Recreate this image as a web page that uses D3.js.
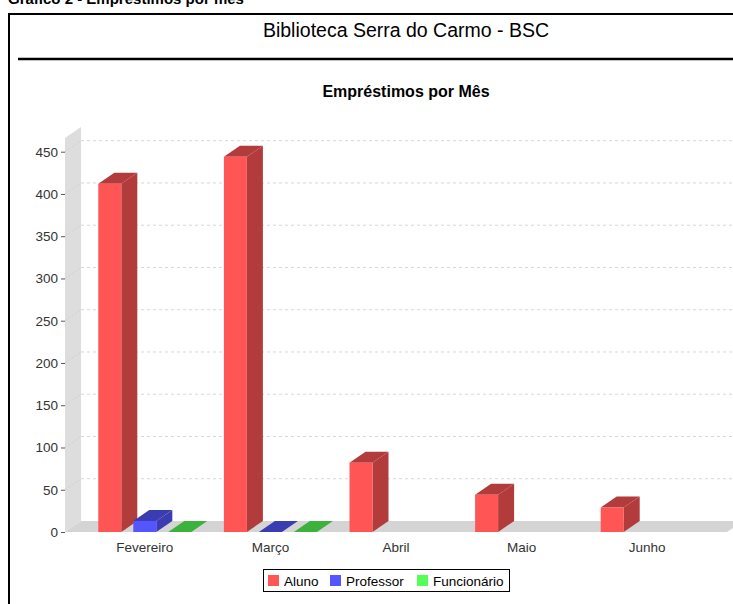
<!DOCTYPE html>
<html><head><meta charset="utf-8">
<script src="https://cdn.jsdelivr.net/npm/d3@7"></script>
<style>body{margin:0;background:#fff;overflow:hidden}svg{display:block}text{font-family:"Liberation Sans",Arial,sans-serif}</style>
</head><body>
<script>
const categories = ["Fevereiro", "Março", "Abril", "Maio", "Junho"];
const seriesNames = ["Aluno", "Professor", "Funcionário"];
const aluno = [412, 444, 82, 44, 29];
const professor = [13, 0, null, null, null];
const funcionario = [0, 0, null, null, null];
const yTicks = [0, 50, 100, 150, 200, 250, 300, 350, 400, 450];
const colors = ["#ff5555", "#5555ff", "#55ff55"];
const darkColors = ["#b23b3b", "#3b3bb2", "#3bb23b"];

(function () {
const W = 733, H = 604;
const FONT = '"Liberation Sans",Arial,sans-serif';
const svg = d3.select("body").append("svg").attr("width", W).attr("height", H);

// page heading (cut off at top, as in the reference)
svg.append("text").attr("x", 8).attr("y", 4).attr("font-size", 15).attr("font-weight", "bold")
  .text("Gráfico 2 - Empréstimos por mês");

// frame
svg.append("rect").attr("x", 9).attr("y", 14).attr("width", 740).attr("height", 620)
  .attr("fill", "none").attr("stroke", "#000").attr("stroke-width", 2);

svg.append("text").attr("x", 406).attr("y", 37).attr("text-anchor", "middle").attr("font-size", 19.5)
  .text("Biblioteca Serra do Carmo - BSC");
svg.append("line").attr("x1", 18).attr("x2", 740).attr("y1", 59).attr("y2", 59)
  .attr("stroke", "#000").attr("stroke-width", 2.5);
svg.append("text").attr("x", 406).attr("y", 97).attr("text-anchor", "middle").attr("font-size", 16)
  .attr("font-weight", "bold").text("Empréstimos por Mês");

// 3D plot geometry
const DX = 16, DY = -11;
const pLeft = 65, pRight = 727, pBottom = 532, pTop = 138;
const y = d3.scaleLinear().domain([0, 444 * 1.05]).range([pBottom, pTop]);
const x0 = d3.scaleBand().domain(categories).range([pLeft + 17, pRight - 17]).padding(0);
const x1 = d3.scaleBand().domain(seriesNames).range([0, 93]).paddingInner(12 / 35).paddingOuter(0);

// left wall
svg.append("polygon").attr("points", [[pLeft, pBottom], [pLeft, pTop], [pLeft + DX, pTop + DY], [pLeft + DX, pBottom + DY]].join(" "))
  .attr("fill", "#dddddd");
// floor
svg.append("polygon").attr("points", [[pLeft, pBottom], [pLeft + DX, pBottom + DY], [pRight + DX, pBottom + DY], [pRight, pBottom]].join(" "))
  .attr("fill", "#d4d4d4");

// gridlines on back plane
const grid = svg.append("g");
yTicks.filter(t => t > 0).forEach(t => {
  const yy = y(t);
  grid.append("line").attr("x1", pLeft + DX).attr("x2", pRight + DX).attr("y1", yy + DY).attr("y2", yy + DY)
    .attr("stroke", "#cccccc").attr("stroke-width", 0.8).attr("stroke-dasharray", "3,3");
  grid.append("line").attr("x1", pLeft).attr("x2", pLeft + DX).attr("y1", yy).attr("y2", yy + DY)
    .attr("stroke", "#cccccc").attr("stroke-width", 0.8).attr("stroke-dasharray", "2,2");
});

// y axis
const yAxis = d3.axisLeft(y).tickValues(yTicks).tickSize(4).tickPadding(3);
const ga = svg.append("g").attr("transform", `translate(${pLeft},0)`).call(yAxis);
ga.select(".domain").remove();
ga.selectAll("text").attr("font-size", 13.5).attr("fill", "#333").style("font-family", FONT);
ga.selectAll("line").attr("stroke", "#555");

// x axis labels
const xAxis = d3.axisBottom(x0).tickSize(0).tickPadding(10);
const gx = svg.append("g").attr("transform", `translate(0,${pBottom})`).call(xAxis);
gx.select(".domain").remove();
gx.selectAll("text").attr("font-size", 13.5).attr("fill", "#333").style("font-family", FONT);

// bars
const seriesData = [aluno, professor, funcionario];
const bars = svg.append("g");
categories.forEach((c, ci) => {
  seriesNames.forEach((s, si) => {
    const v = seriesData[si][ci];
    if (v === null || v === undefined) return;
    const bx = x0(c) + (x0.bandwidth() - 93) / 2 + x1(s);
    const bw = x1.bandwidth();
    const ty = y(v);
    const g = bars.append("g");
    g.append("polygon").attr("points", [[bx + bw, ty], [bx + bw + DX, ty + DY], [bx + bw + DX, pBottom + DY], [bx + bw, pBottom]].join(" "))
      .attr("fill", darkColors[si]);
    g.append("polygon").attr("points", [[bx, ty], [bx + DX, ty + DY], [bx + bw + DX, ty + DY], [bx + bw, ty]].join(" "))
      .attr("fill", darkColors[si]);
    if (pBottom - ty > 0.5)
      g.append("rect").attr("x", bx).attr("y", ty).attr("width", bw).attr("height", pBottom - ty)
        .attr("fill", colors[si]);
  });
});

// legend
const lg = svg.append("g");
lg.append("rect").attr("x", 263.5).attr("y", 569.5).attr("width", 246).attr("height", 22)
  .attr("fill", "#fff").attr("stroke", "#000").attr("stroke-width", 1);
const lx = [268, 330, 417];
seriesNames.forEach((s, i) => {
  lg.append("rect").attr("x", lx[i]).attr("y", 575).attr("width", 11).attr("height", 11).attr("fill", colors[i]);
  lg.append("text").attr("x", lx[i] + 16).attr("y", 585.5).attr("font-size", 13.5).attr("fill", "#000").text(s);
});
})();
</script>
</body></html>
